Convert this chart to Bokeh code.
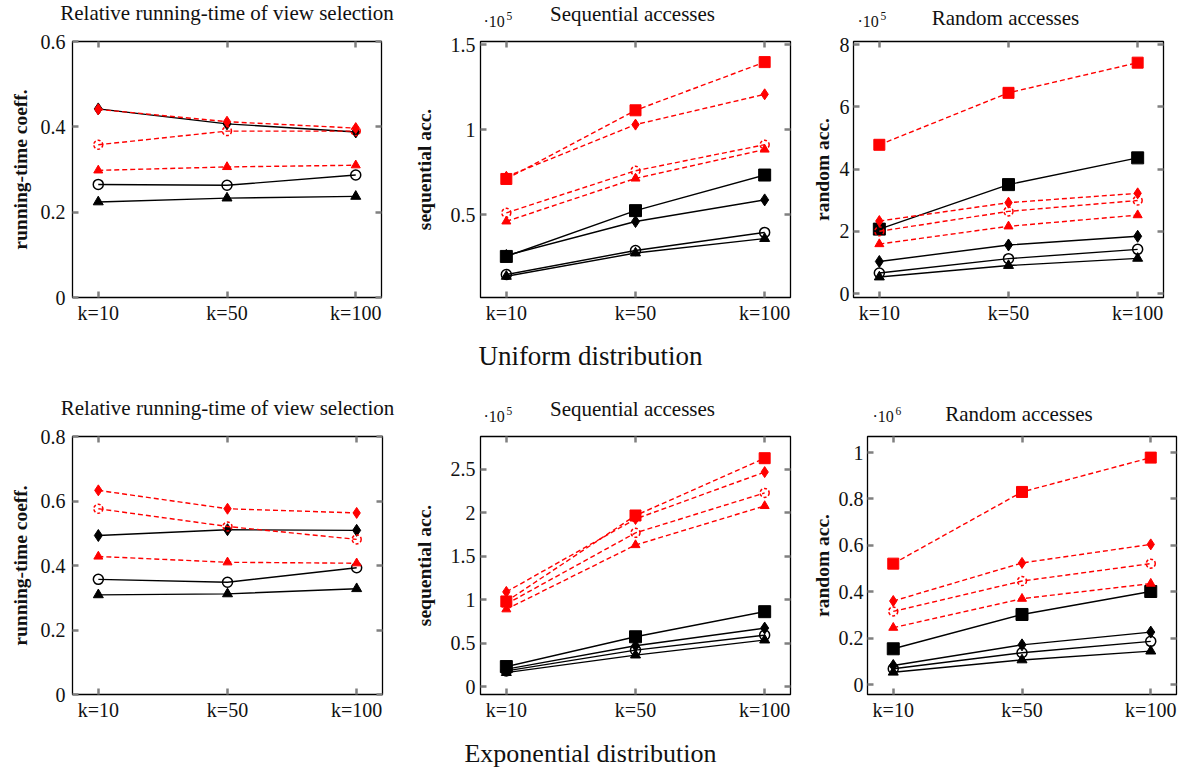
from bokeh.plotting import figure
from bokeh.layouts import column, row
from bokeh.models import Range1d, FixedTicker, LinearAxis, Label, CustomJSTickFormatter
from bokeh.embed import file_html
from bokeh.resources import INLINE

FONT = "Liberation Serif"
RED = "#ff0000"
BLACK = "#000000"
TICK_GRAY = "#808080"
TEXT = "#111111"

# ---------------- data ----------------
k_labels = ["k=10", "k=50", "k=100"]
k_pos = [0, 1, 2]

# Uniform distribution: relative running-time of view selection
uni_rt_black_diamond = [0.442, 0.407, 0.388]
uni_rt_black_circle = [0.265, 0.263, 0.287]
uni_rt_black_triangle = [0.224, 0.233, 0.237]
uni_rt_red_diamond = [0.441, 0.412, 0.397]
uni_rt_red_circle = [0.358, 0.390, 0.390]
uni_rt_red_triangle = [0.298, 0.306, 0.310]
uni_rt_yrange = [0.0, 0.6]
uni_rt_yticks = [0, 0.2, 0.4, 0.6]

# Uniform distribution: sequential accesses (x 10^5)
uni_seq_black_square = [0.256, 0.525, 0.734]
uni_seq_black_diamond = [0.262, 0.461, 0.588]
uni_seq_black_circle = [0.150, 0.291, 0.397]
uni_seq_black_triangle = [0.139, 0.276, 0.361]
uni_seq_red_square = [0.711, 1.114, 1.397]
uni_seq_red_diamond = [0.724, 1.030, 1.208]
uni_seq_red_circle = [0.512, 0.759, 0.912]
uni_seq_red_triangle = [0.462, 0.714, 0.884]
uni_seq_yrange = [0.015, 1.518]
uni_seq_yticks = [0.5, 1, 1.5]

# Uniform distribution: random accesses (x 10^5)
uni_rand_black_square = [2.07, 3.50, 4.36]
uni_rand_black_diamond = [1.03, 1.56, 1.84]
uni_rand_black_circle = [0.66, 1.12, 1.42]
uni_rand_black_triangle = [0.53, 0.90, 1.13]
uni_rand_red_square = [4.78, 6.45, 7.42]
uni_rand_red_diamond = [2.33, 2.92, 3.22]
uni_rand_red_circle = [2.00, 2.64, 2.99]
uni_rand_red_triangle = [1.59, 2.16, 2.52]
uni_rand_yrange = [-0.128, 8.1]
uni_rand_yticks = [0, 2, 4, 6, 8]

# Exponential distribution: relative running-time of view selection
exp_rt_black_diamond = [0.493, 0.511, 0.509]
exp_rt_black_circle = [0.357, 0.348, 0.393]
exp_rt_black_triangle = [0.309, 0.312, 0.328]
exp_rt_red_diamond = [0.633, 0.576, 0.563]
exp_rt_red_circle = [0.576, 0.521, 0.481]
exp_rt_red_triangle = [0.428, 0.410, 0.407]
exp_rt_yrange = [0.0, 0.8]
exp_rt_yticks = [0, 0.2, 0.4, 0.6, 0.8]

# Exponential distribution: sequential accesses (x 10^5)
exp_seq_black_square = [0.23, 0.573, 0.862]
exp_seq_black_diamond = [0.20, 0.469, 0.673]
exp_seq_black_circle = [0.18, 0.419, 0.592]
exp_seq_black_triangle = [0.16, 0.362, 0.535]
exp_seq_red_square = [0.98, 1.97, 2.63]
exp_seq_red_diamond = [1.09, 1.93, 2.47]
exp_seq_red_circle = [0.95, 1.77, 2.23]
exp_seq_red_triangle = [0.89, 1.63, 2.08]
exp_seq_yrange = [-0.092, 2.88]
exp_seq_yticks = [0, 0.5, 1, 1.5, 2, 2.5]

# Exponential distribution: random accesses (x 10^6)
exp_rand_black_square = [0.154, 0.302, 0.401]
exp_rand_black_diamond = [0.082, 0.171, 0.226]
exp_rand_black_circle = [0.068, 0.137, 0.186]
exp_rand_black_triangle = [0.053, 0.106, 0.144]
exp_rand_red_square = [0.521, 0.830, 0.978]
exp_rand_red_diamond = [0.360, 0.524, 0.604]
exp_rand_red_circle = [0.315, 0.446, 0.521]
exp_rand_red_triangle = [0.245, 0.370, 0.435]
exp_rand_yrange = [-0.043, 1.069]
exp_rand_yticks = [0, 0.2, 0.4, 0.6, 0.8, 1]

title_rt = "Relative running-time of view selection"
title_seq = "Sequential accesses"
title_rand = "Random accesses"
label_rt = "running-time coeff."
label_seq = "sequential acc."
label_rand = "random acc."
caption_uniform = "Uniform distribution"
caption_exponential = "Exponential distribution"
mult_base = "·10"

X_RANGE = (-0.2, 2.2)
PAGE_CENTER = 590
BAND_W = 1176

MARKER_STYLE = {
    "square": dict(marker="square", size=12),
    "diamond": dict(marker="diamond", size=12),
    "circle": dict(marker="circle", size=10),
    "triangle": dict(marker="triangle", size=10),
}


def add_series(p, ys, marker, red):
    color = RED if red else BLACK
    dash = "5 3" if red else "solid"
    p.line(k_pos, ys, line_color=color, line_width=1.4, line_dash=dash)
    st = dict(MARKER_STYLE[marker])
    if red:
        st["size"] = st["size"] - 1
    if marker == "circle":
        p.scatter(k_pos, ys, line_color=color, fill_color=None, line_width=1.5,
                  line_dash=("3 2" if red else "solid"), **st)
    else:
        p.scatter(k_pos, ys, line_color=color, fill_color=color, line_width=1, **st)


def make_panel(ylabel, yrange, yticks, black, red, geo, tb, bb, fh, ytick_standoff, ylab_standoff):
    lb, fw, rb = geo
    p = figure(frame_width=fw, frame_height=fh, min_border_left=lb, min_border_right=rb,
               min_border_top=tb, min_border_bottom=bb, title=None,
               x_range=Range1d(*X_RANGE), y_range=Range1d(*yrange),
               toolbar_location=None, output_backend="svg", margin=0)
    p.grid.visible = False
    p.outline_line_color = "black"
    p.outline_line_width = 1.3
    p.background_fill_color = "white"
    p.border_fill_color = "white"

    xt = FixedTicker(ticks=k_pos)
    yt = FixedTicker(ticks=yticks)
    xfmt = CustomJSTickFormatter(args=dict(labels=k_labels), code="return labels[Math.round(tick)];")
    yfmt = CustomJSTickFormatter(code="return String(Math.round(tick*1000)/1000);")

    for ax in p.xaxis:
        ax.ticker = xt
        ax.formatter = xfmt
        ax.major_label_standoff = 4
    for ax in p.yaxis:
        ax.ticker = yt
        ax.formatter = yfmt
        ax.major_label_standoff = ytick_standoff
        ax.axis_label = ylabel
        ax.axis_label_text_font = FONT
        ax.axis_label_text_font_style = "bold"
        ax.axis_label_text_font_size = "19.5px"
        ax.axis_label_text_color = TEXT
        ax.axis_label_standoff = ylab_standoff
    for ax in p.axis:
        ax.major_label_text_font = FONT
        ax.major_label_text_font_size = "20px"
        ax.major_label_text_color = TEXT

    # tick marks on the top and right edges of the frame (no labels)
    top_ax = LinearAxis(ticker=xt)
    right_ax = LinearAxis(ticker=yt)
    p.add_layout(top_ax, "above")
    p.add_layout(right_ax, "right")
    for ax in [top_ax, right_ax]:
        ax.major_label_text_font_size = "1px"
        ax.major_label_text_color = None
        ax.major_label_standoff = 0
    for ax in p.axis:
        ax.axis_line_color = None
        ax.major_tick_line_color = TICK_GRAY
        ax.major_tick_line_width = 2.5
        ax.major_tick_in = 6
        ax.major_tick_out = 0
        ax.minor_tick_line_color = None

    for ys, mk in black:
        add_series(p, ys, mk, False)
    for ys, mk in red:
        add_series(p, ys, mk, True)
    return p


def text_band(width, height):
    c = figure(width=width, height=height, x_range=Range1d(0, width), y_range=Range1d(0, height),
               x_axis_type=None, y_axis_type=None, toolbar_location=None, title=None,
               output_backend="svg", min_border=0, margin=0)
    c.outline_line_color = None
    c.background_fill_color = "white"
    c.border_fill_color = "white"
    return c


def add_text(c, x, y, text, size, align="left"):
    # y is the vertical middle of the text, measured up from the band's bottom edge
    c.add_layout(Label(x=x, y=y, text=text, text_align=align, text_baseline="middle",
                       text_font=FONT, text_font_size=size, text_color=TEXT))


def add_mult(c, x, y, exponent):
    add_text(c, x, y, mult_base, "16px")
    add_text(c, x + 23, y + 5.5, exponent, "11.5px")


# ---- panel geometry: (left border, frame width, right border) ----
A_geo, B_geo, C_geo = (72, 309, 29), (67, 310, 13), (50, 310, 12)
D_geo, E_geo, F_geo = (72, 310, 28), (67, 310, 13), (64, 309, 3)


def frames(geos):
    out, x0 = [], 0
    for lb, fw, rb in geos:
        out.append((x0 + lb, x0 + lb + fw / 2))
        x0 += lb + fw + rb
    return out


pA = make_panel(label_rt, uni_rt_yrange, uni_rt_yticks,
                [(uni_rt_black_diamond, "diamond"), (uni_rt_black_circle, "circle"),
                 (uni_rt_black_triangle, "triangle")],
                [(uni_rt_red_diamond, "diamond"), (uni_rt_red_circle, "circle"),
                 (uni_rt_red_triangle, "triangle")],
                A_geo, 11, 31, 256, 7, 7)
pB = make_panel(label_seq, uni_seq_yrange, uni_seq_yticks,
                [(uni_seq_black_square, "square"), (uni_seq_black_diamond, "diamond"),
                 (uni_seq_black_circle, "circle"), (uni_seq_black_triangle, "triangle")],
                [(uni_seq_red_square, "square"), (uni_seq_red_diamond, "diamond"),
                 (uni_seq_red_circle, "circle"), (uni_seq_red_triangle, "triangle")],
                B_geo, 11, 31, 256, 5, 13)
pC = make_panel(label_rand, uni_rand_yrange, uni_rand_yticks,
                [(uni_rand_black_square, "square"), (uni_rand_black_diamond, "diamond"),
                 (uni_rand_black_circle, "circle"), (uni_rand_black_triangle, "triangle")],
                [(uni_rand_red_square, "square"), (uni_rand_red_diamond, "diamond"),
                 (uni_rand_red_circle, "circle"), (uni_rand_red_triangle, "triangle")],
                C_geo, 11, 31, 256, 4, 4)
pD = make_panel(label_rt, exp_rt_yrange, exp_rt_yticks,
                [(exp_rt_black_diamond, "diamond"), (exp_rt_black_circle, "circle"),
                 (exp_rt_black_triangle, "triangle")],
                [(exp_rt_red_diamond, "diamond"), (exp_rt_red_circle, "circle"),
                 (exp_rt_red_triangle, "triangle")],
                D_geo, 11, 29, 258, 7, 7)
pE = make_panel(label_seq, exp_seq_yrange, exp_seq_yticks,
                [(exp_seq_black_square, "square"), (exp_seq_black_diamond, "diamond"),
                 (exp_seq_black_circle, "circle"), (exp_seq_black_triangle, "triangle")],
                [(exp_seq_red_square, "square"), (exp_seq_red_diamond, "diamond"),
                 (exp_seq_red_circle, "circle"), (exp_seq_red_triangle, "triangle")],
                E_geo, 11, 29, 258, 5, 13)
pF = make_panel(label_rand, exp_rand_yrange, exp_rand_yticks,
                [(exp_rand_black_square, "square"), (exp_rand_black_diamond, "diamond"),
                 (exp_rand_black_circle, "circle"), (exp_rand_black_triangle, "triangle")],
                [(exp_rand_red_square, "square"), (exp_rand_red_diamond, "diamond"),
                 (exp_rand_red_circle, "circle"), (exp_rand_red_triangle, "triangle")],
                F_geo, 11, 29, 258, 4, 3)

top_geo = frames([A_geo, B_geo, C_geo])
bot_geo = frames([D_geo, E_geo, F_geo])

# band above the first row (titles and multipliers), height 30
hdr = text_band(BAND_W, 30)
add_text(hdr, top_geo[0][1], 17.5, title_rt, "21px", "center")
add_text(hdr, top_geo[1][1], 17, title_seq, "21px", "center")
add_text(hdr, top_geo[2][1], 12.5, title_rand, "21px", "center")
add_mult(hdr, top_geo[1][0] + 6, 9, "5")
add_mult(hdr, top_geo[2][0] + 7, 9, "5")

# band between rows: first caption + titles/multipliers of the second row, height 97
mid = text_band(BAND_W, 97)
add_text(mid, PAGE_CENTER, 69.5, caption_uniform, "27px", "center")
add_text(mid, bot_geo[0][1], 17.5, title_rt, "21px", "center")
add_text(mid, bot_geo[1][1], 17, title_seq, "21px", "center")
add_text(mid, bot_geo[2][1], 12, title_rand, "21px", "center")
add_mult(mid, bot_geo[1][0] + 6, 9, "5")
add_mult(mid, bot_geo[2][0] + 8, 9, "6")

# band below the second row: second caption, height 47
bot = text_band(BAND_W, 47)
add_text(bot, PAGE_CENTER, 17.5, caption_exponential, "26px", "center")

layout = column(hdr, row(pA, pB, pC, spacing=0), mid, row(pD, pE, pF, spacing=0), bot, spacing=0)

with open("out.html", "w") as f:
    f.write(file_html(layout, INLINE))
